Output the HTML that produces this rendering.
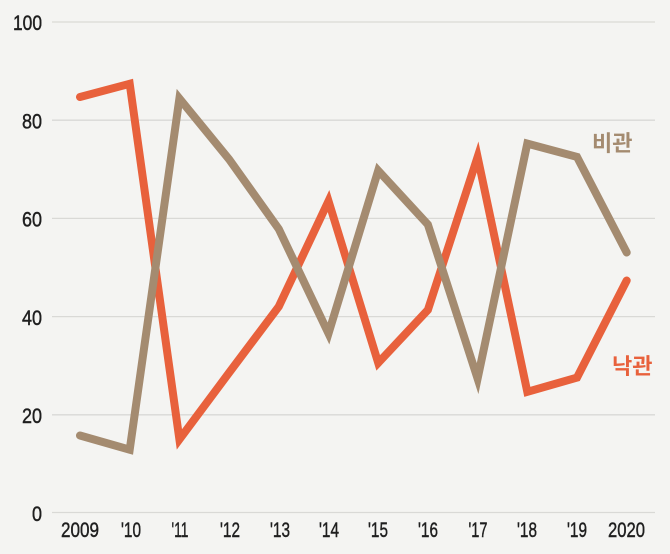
<!DOCTYPE html>
<html>
<head>
<meta charset="utf-8">
<style>
html,body{margin:0;padding:0;background:#f4f4f2;}
svg{display:block;}
.t{font-family:"Liberation Sans","Noto Sans CJK KR",sans-serif;font-size:21.5px;fill:#1f1f1f;stroke:#1f1f1f;stroke-width:0.45;}
.k{font-family:"Liberation Sans","Noto Sans CJK KR",sans-serif;font-size:22px;font-weight:bold;}
</style>
</head>
<body>
<svg width="670" height="554" viewBox="0 0 670 554" xmlns="http://www.w3.org/2000/svg">
<rect width="670" height="554" fill="#f4f4f2"/>
<g stroke="#d9d9d6" stroke-width="1.3">
<line x1="52" x2="655" y1="22" y2="22"/>
<line x1="52" x2="655" y1="120.2" y2="120.2"/>
<line x1="52" x2="655" y1="218.4" y2="218.4"/>
<line x1="52" x2="655" y1="316.6" y2="316.6"/>
<line x1="52" x2="655" y1="414.8" y2="414.8"/>
<line x1="52" x2="655" y1="512.5" y2="512.5"/>
</g>
<g class="t" text-anchor="end">
<text x="42" y="30" textLength="29" lengthAdjust="spacingAndGlyphs">100</text>
<text x="42" y="128.5" textLength="20" lengthAdjust="spacingAndGlyphs">80</text>
<text x="42" y="226.5" textLength="20" lengthAdjust="spacingAndGlyphs">60</text>
<text x="42" y="325" textLength="20" lengthAdjust="spacingAndGlyphs">40</text>
<text x="42" y="423" textLength="20" lengthAdjust="spacingAndGlyphs">20</text>
<text x="42" y="521" textLength="10" lengthAdjust="spacingAndGlyphs">0</text>
</g>
<g class="t" text-anchor="middle">
<text x="80" y="537" textLength="38" lengthAdjust="spacingAndGlyphs">2009</text>
<text x="131" y="537" textLength="20" lengthAdjust="spacingAndGlyphs">'10</text>
<text x="180" y="537" textLength="17" lengthAdjust="spacingAndGlyphs">'11</text>
<text x="230" y="537" textLength="20" lengthAdjust="spacingAndGlyphs">'12</text>
<text x="280" y="537" textLength="20" lengthAdjust="spacingAndGlyphs">'13</text>
<text x="329" y="537" textLength="20" lengthAdjust="spacingAndGlyphs">'14</text>
<text x="378" y="537" textLength="20" lengthAdjust="spacingAndGlyphs">'15</text>
<text x="428" y="537" textLength="20" lengthAdjust="spacingAndGlyphs">'16</text>
<text x="478" y="537" textLength="19" lengthAdjust="spacingAndGlyphs">'17</text>
<text x="527" y="537" textLength="20" lengthAdjust="spacingAndGlyphs">'18</text>
<text x="577" y="537" textLength="20" lengthAdjust="spacingAndGlyphs">'19</text>
<text x="626.5" y="537" textLength="37" lengthAdjust="spacingAndGlyphs">2020</text>
</g>
<polyline fill="none" stroke="#e8613c" stroke-width="8" stroke-linejoin="miter" stroke-miterlimit="10" stroke-linecap="round"
points="80,97 129.7,83.8 179.4,439.4 229.1,372.7 278.8,306.5 328.5,201 378.2,362.9 427.9,309.9 477.6,156.9 527.3,391.8 577,377.6 626.7,280.5"/>
<polyline fill="none" stroke="#a48b70" stroke-width="8" stroke-linejoin="miter" stroke-miterlimit="10" stroke-linecap="round"
points="80,435.5 129.7,449.7 179.4,98.5 229.1,159.3 278.8,229 328.5,333.5 378.2,170.6 427.9,224.6 477.6,378.6 527.3,143.6 577,156.9 626.7,252.5"/>
<text class="k" x="592" y="151" fill="#a48b70">비관</text>
<text class="k" x="612" y="374" fill="#e8613c">낙관</text>
</svg>
</body>
</html>
